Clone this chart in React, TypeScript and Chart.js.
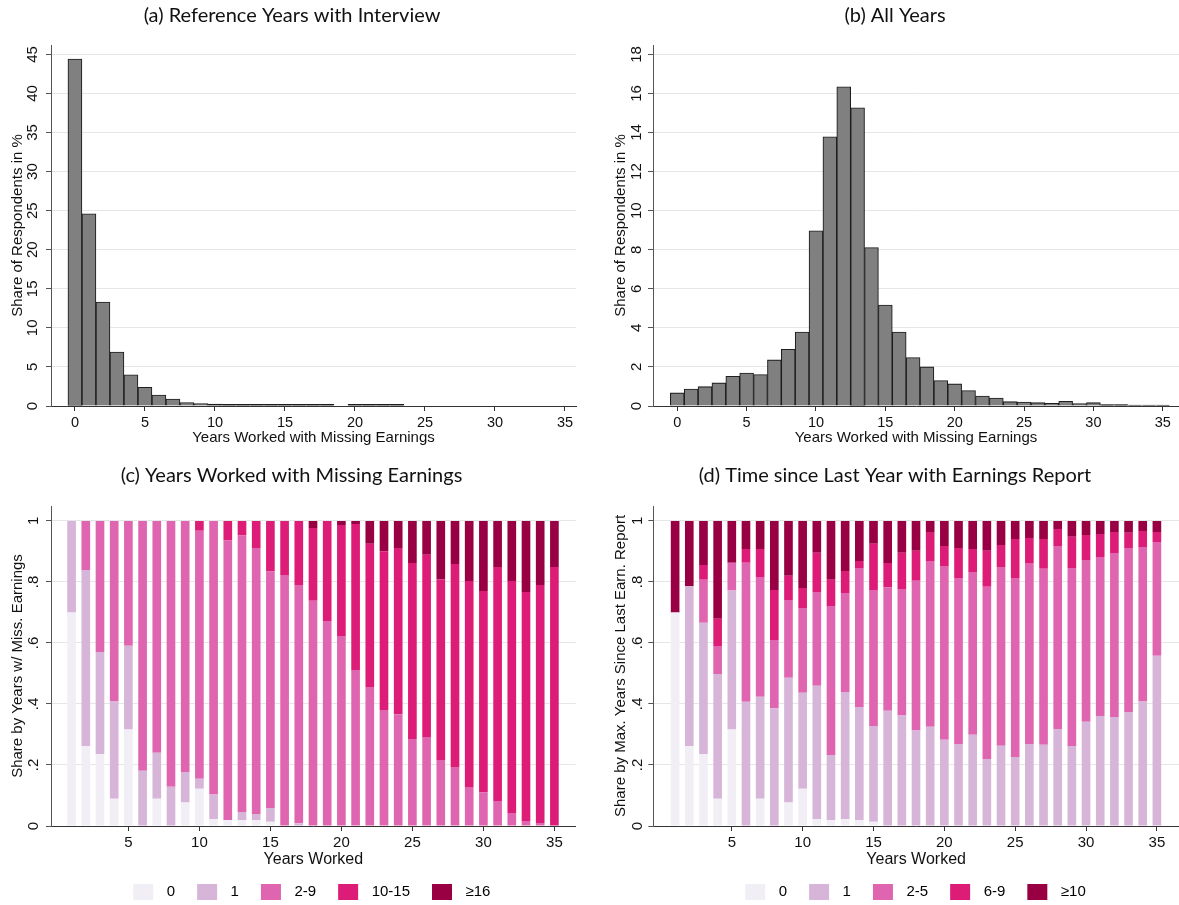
import React, { useEffect, useRef } from 'react';
import { Chart, registerables } from 'chart.js';

Chart.register(...registerables);

// ---------- data ----------
const histAYears = [0, 1, 2, 3, 4, 5, 6, 7, 8, 9, 10, 11, 12, 13, 14, 15, 16, 17, 18, 19, 20, 21, 22, 23];
const histAValues = [44.4, 24.6, 13.3, 6.9, 4.0, 2.4, 1.4, 0.9, 0.45, 0.3, 0.25, 0.2, 0.2, 0.2, 0.2, 0.2, 0.2, 0.2, 0.2, 0, 0.2, 0.2, 0.2, 0.2];

const histBYears = [0, 1, 2, 3, 4, 5, 6, 7, 8, 9, 10, 11, 12, 13, 14, 15, 16, 17, 18, 19, 20, 21, 22, 23, 24, 25, 26, 27, 28, 29, 30, 31, 32, 33, 34, 35];
const histBValues = [0.67, 0.87, 0.99, 1.18, 1.52, 1.69, 1.61, 2.36, 2.9, 3.79, 8.97, 13.78, 16.34, 15.27, 8.11, 5.17, 3.79, 2.48, 2.0, 1.3, 1.13, 0.79, 0.51, 0.41, 0.22, 0.2, 0.17, 0.14, 0.24, 0.12, 0.17, 0.07, 0.07, 0.05, 0.05, 0.05];

const xTicksTop = [0, 5, 10, 15, 20, 25, 30, 35];
const yTicksA = [0, 5, 10, 15, 20, 25, 30, 35, 40, 45];
const yTicksB = [0, 2, 4, 6, 8, 10, 12, 14, 16, 18];

const workedYears = [1, 2, 3, 4, 5, 6, 7, 8, 9, 10, 11, 12, 13, 14, 15, 16, 17, 18, 19, 20, 21, 22, 23, 24, 25, 26, 27, 28, 29, 30, 31, 32, 33, 34, 35];
const xTicksBottom = [5, 10, 15, 20, 25, 30, 35];
const yTicksShare = [0, 0.2, 0.4, 0.6, 0.8, 1];
const yTickLabelsShare = ['0', '.2', '.4', '.6', '.8', '1'];

const missLabels = ['0', '1', '2-9', '10-15', '≥16'];
const miss0 = [0.70, 0.262, 0.236, 0.089, 0.316, 0, 0.089, 0, 0.077, 0.122, 0.023, 0.020, 0.020, 0.020, 0.014, 0, 0, 0, 0, 0, 0, 0, 0, 0, 0, 0, 0, 0, 0, 0, 0, 0, 0, 0, 0];
const miss1 = [0.30, 0.577, 0.334, 0.319, 0.275, 0.181, 0.151, 0.129, 0.100, 0.033, 0.080, 0, 0.026, 0.019, 0.045, 0, 0.009, 0, 0, 0, 0, 0, 0, 0, 0, 0, 0, 0, 0, 0, 0, 0, 0, 0, 0];
const miss2 = [0, 0.161, 0.430, 0.592, 0.409, 0.819, 0.760, 0.871, 0.823, 0.813, 0.897, 0.916, 0.906, 0.872, 0.775, 0.823, 0.781, 0.738, 0.672, 0.623, 0.511, 0.456, 0.380, 0.366, 0.285, 0.292, 0.216, 0.193, 0.128, 0.111, 0.082, 0.043, 0.016, 0.010, 0];
const miss3 = [0, 0, 0, 0, 0, 0, 0, 0, 0, 0.032, 0, 0.064, 0.048, 0.089, 0.166, 0.177, 0.210, 0.239, 0.328, 0.364, 0.479, 0.469, 0.521, 0.545, 0.577, 0.597, 0.593, 0.666, 0.675, 0.659, 0.767, 0.760, 0.751, 0.780, 0.849];
const miss4 = [0, 0, 0, 0, 0, 0, 0, 0, 0, 0, 0, 0, 0, 0, 0, 0, 0, 0.023, 0, 0.013, 0.010, 0.075, 0.099, 0.089, 0.138, 0.111, 0.191, 0.141, 0.197, 0.230, 0.151, 0.197, 0.233, 0.210, 0.151];

const lastLabels = ['0', '1', '2-5', '6-9', '≥10'];
const last0 = [0.70, 0.262, 0.236, 0.089, 0.316, 0, 0.089, 0, 0.077, 0.122, 0.023, 0.020, 0.023, 0.020, 0.014, 0, 0, 0, 0, 0, 0, 0, 0, 0, 0, 0, 0, 0, 0, 0, 0, 0, 0, 0, 0];
const last1 = [0, 0.525, 0.430, 0.409, 0.456, 0.407, 0.335, 0.386, 0.409, 0.315, 0.437, 0.213, 0.416, 0.370, 0.314, 0.378, 0.362, 0.313, 0.325, 0.283, 0.269, 0.299, 0.220, 0.263, 0.226, 0.269, 0.266, 0.318, 0.262, 0.342, 0.361, 0.357, 0.374, 0.408, 0.558];
const last2 = [0, 0, 0.141, 0.092, 0.091, 0.456, 0.392, 0.224, 0.255, 0.278, 0.307, 0.488, 0.325, 0.456, 0.446, 0.405, 0.415, 0.491, 0.544, 0.569, 0.544, 0.534, 0.564, 0.586, 0.587, 0.593, 0.577, 0.600, 0.584, 0.530, 0.521, 0.538, 0.537, 0.507, 0.373];
const last3 = [0, 0, 0.049, 0.089, 0, 0.045, 0.092, 0.164, 0.079, 0.065, 0.129, 0.086, 0.072, 0.023, 0.151, 0.079, 0.119, 0.098, 0.095, 0.066, 0.098, 0.075, 0.118, 0.072, 0.128, 0.082, 0.098, 0.056, 0.102, 0.082, 0.075, 0.069, 0.050, 0.052, 0.033];
const last4 = [0.30, 0.213, 0.144, 0.321, 0.137, 0.092, 0.092, 0.226, 0.180, 0.220, 0.104, 0.193, 0.164, 0.131, 0.075, 0.138, 0.104, 0.098, 0.036, 0.082, 0.089, 0.092, 0.098, 0.079, 0.059, 0.056, 0.059, 0.026, 0.052, 0.046, 0.043, 0.036, 0.039, 0.033, 0.036];

const shareColors = ['#f1eef6', '#d7b5d8', '#df65b0', '#dd1c77', '#980043'];

// ---------- styling ----------
const SANS = '"Liberation Sans", Arial, sans-serif';
const TITLE_FONT = 'Lato, "Noto Sans", sans-serif';
const TEXT = '#111111';
const HIST_FILL = '#808080';
const HIST_EDGE = '#1e1e1e';

const annotPlugin = {
  id: 'annot',
  afterDraw(chart: any, _args: any, o: any) {
    const ctx = chart.ctx;
    ctx.save();
    ctx.fillStyle = TEXT;
    ctx.textAlign = 'center';
    ctx.textBaseline = 'middle';
    ctx.font = `${o.titleSize}px ${TITLE_FONT}`;
    ctx.fillText(o.title, o.titleX, o.titleY);
    const ys = chart.scales.y;
    ctx.font = `${o.tickSize}px ${SANS}`;
    o.yTicks.forEach((v: number, i: number) => {
      const py = ys.getPixelForValue(v);
      ctx.save();
      ctx.translate(o.yTickX, py);
      ctx.rotate(-Math.PI / 2);
      ctx.fillText(o.yTickLabels[i], 0, 0);
      ctx.restore();
    });
    ctx.font = `${o.yTitleSize}px ${SANS}`;
    const cy = (chart.chartArea.top + chart.chartArea.bottom) / 2;
    ctx.save();
    ctx.translate(o.yTitleX, cy);
    ctx.rotate(-Math.PI / 2);
    ctx.fillText(o.yTitle, 0, 0);
    ctx.restore();
    ctx.restore();
  },
};

type PanelSpec = {
  kind: 'hist' | 'stack';
  xs: number[];
  series: { label: string; values: number[]; color: string }[];
  xMin: number;
  xMax: number;
  yMax: number;
  xTicks: number[];
  yTicks: number[];
  yTickLabels: string[];
  xTitle: string;
  xTitleSize: number;
  xTickSize: number;
  xTitlePadBottom: number;
  yTitle: string;
  title: string;
  titleX: number;
  titleY: number;
  yTickX: number;
  yTitleX: number;
  yAxisWidth: number;
  xAxisHeight: number;
  padding: { left: number; right: number; top: number; bottom: number };
  legend: boolean;
};

// very short histogram bars appear as a solid outline
const histFill = (c: any) => {
  const raw = c.raw;
  const ys = c.chart.scales && c.chart.scales.y;
  if (!raw || !ys) return HIST_FILL;
  const h = ys.getPixelForValue(0) - ys.getPixelForValue(raw.y);
  return h > 0 && h < 2.2 ? HIST_EDGE : HIST_FILL;
};

function buildConfig(p: PanelSpec): any {
  const datasets = p.series.map((s) => ({
    label: s.label,
    data: p.xs.map((x, i) => ({ x, y: s.values[i] })),
    backgroundColor: p.kind === 'hist' ? histFill : s.color,
    borderColor: p.kind === 'hist' ? HIST_EDGE : s.color,
    borderWidth: p.kind === 'hist' ? 1.1 : 0,
    barPercentage: p.kind === 'hist' ? 1 : 0.61,
    categoryPercentage: 1,
  }));
  const stacked = p.kind === 'stack';
  return {
    type: 'bar',
    data: { datasets },
    plugins: [annotPlugin],
    options: {
      responsive: false,
      animation: false,
      events: [],
      layout: { padding: p.padding, autoPadding: false },
      scales: {
        x: {
          type: 'linear',
          min: p.xMin,
          max: p.xMax,
          offset: false,
          stacked,
          afterBuildTicks: (s: any) => {
            s.ticks = p.xTicks.map((v) => ({ value: v }));
          },
          grid: {
            display: true,
            drawOnChartArea: false,
            drawTicks: true,
            tickLength: 5,
            tickColor: '#333',
            offset: false,
          },
          border: { display: true, color: '#333', width: 1, z: 1 },
          ticks: {
            font: { family: SANS, size: p.xTickSize },
            color: TEXT,
            padding: 3,
            maxRotation: 0,
            minRotation: 0,
            autoSkip: false,
            includeBounds: false,
            callback: (v: any) => String(v),
          },
          title: {
            display: true,
            text: p.xTitle,
            color: TEXT,
            font: { family: SANS, size: p.xTitleSize },
            padding: { top: 0, bottom: p.xTitlePadBottom },
          },
          afterFit: (s: any) => {
            s.height = p.xAxisHeight;
          },
        },
        y: {
          type: 'linear',
          min: 0,
          max: p.yMax,
          stacked,
          afterBuildTicks: (s: any) => {
            s.ticks = p.yTicks.map((v) => ({ value: v }));
          },
          grid: {
            color: '#e6e6e6',
            lineWidth: 1,
            drawTicks: true,
            tickLength: 5,
            tickColor: '#555',
          },
          border: { display: true, color: '#555', width: 1, z: 1 },
          ticks: { color: 'rgba(0,0,0,0)', font: { size: 15 }, padding: 0, includeBounds: false },
          afterFit: (s: any) => {
            s.width = p.yAxisWidth;
          },
        },
      },
      plugins: {
        tooltip: { enabled: false },
        title: { display: false },
        legend: p.legend
          ? {
              display: true,
              position: 'bottom',
              align: 'center',
              labels: {
                boxWidth: 20,
                boxHeight: 16,
                padding: 22,
                color: TEXT,
                font: { family: SANS, size: 15 },
                generateLabels: (chart: any) =>
                  chart.data.datasets.map((ds: any, i: number) => ({
                    text: '\u2009\u2009' + ds.label,
                    fillStyle: ds.backgroundColor,
                    strokeStyle: ds.backgroundColor,
                    lineWidth: 0,
                    hidden: false,
                    datasetIndex: i,
                  })),
              },
            }
          : { display: false },
        annot: {
          title: p.title,
          titleX: p.titleX,
          titleY: p.titleY,
          titleSize: 20,
          tickSize: 15,
          yTicks: p.yTicks,
          yTickLabels: p.yTickLabels,
          yTickX: p.yTickX,
          yTitle: p.yTitle,
          yTitleX: p.yTitleX,
          yTitleSize: 15,
        },
      },
    },
  };
}

function Panel(props: { spec: PanelSpec; left: number; top: number; width: number; height: number }) {
  const ref = useRef<HTMLCanvasElement | null>(null);
  useEffect(() => {
    if (!ref.current) return;
    const chart = new Chart(ref.current, buildConfig(props.spec));
    return () => chart.destroy();
  }, []);
  return (
    <canvas
      ref={ref}
      width={props.width}
      height={props.height}
      style={{ position: 'absolute', left: props.left, top: props.top, width: props.width, height: props.height }}
    />
  );
}

const specA: PanelSpec = {
  kind: 'hist',
  xs: histAYears,
  series: [{ label: 'Share', values: histAValues, color: HIST_FILL }],
  xMin: -1.71,
  xMax: 35.79,
  yMax: 46.2,
  xTicks: xTicksTop,
  yTicks: yTicksA,
  yTickLabels: yTicksA.map(String),
  xTitle: 'Years Worked with Missing Earnings',
  xTitleSize: 15,
  xTickSize: 14.5,
  xTitlePadBottom: 0,
  yTitle: 'Share of Respondents in %',
  title: '(a) Reference Years with Interview',
  titleX: 292,
  titleY: 16,
  yTickX: 32.5,
  yTitleX: 17.5,
  yAxisWidth: 51,
  xAxisHeight: 41.3,
  padding: { left: 0, right: 14, top: 45, bottom: 7.7 },
  legend: false,
};

const specB: PanelSpec = {
  kind: 'hist',
  xs: histBYears,
  series: [{ label: 'Share', values: histBValues, color: HIST_FILL }],
  xMin: -1.75,
  xMax: 36.17,
  yMax: 18.48,
  xTicks: xTicksTop,
  yTicks: yTicksB,
  yTickLabels: yTicksB.map(String),
  xTitle: 'Years Worked with Missing Earnings',
  xTitleSize: 15,
  xTickSize: 14.5,
  xTitlePadBottom: 0,
  yTitle: 'Share of Respondents in %',
  title: '(b) All Years',
  titleX: 295,
  titleY: 16,
  yTickX: 36.5,
  yTitleX: 20.5,
  yAxisWidth: 53,
  xAxisHeight: 41.3,
  padding: { left: 0, right: 0, top: 45, bottom: 7.7 },
  legend: false,
};

const specC: PanelSpec = {
  kind: 'stack',
  xs: workedYears,
  series: missLabels.map((l, i) => ({ label: l, values: [miss0, miss1, miss2, miss3, miss4][i], color: shareColors[i] })),
  xMin: -0.45,
  xMax: 36.5,
  yMax: 1.049,
  xTicks: xTicksBottom,
  yTicks: yTicksShare,
  yTickLabels: yTickLabelsShare,
  xTitle: 'Years Worked',
  xTitleSize: 16,
  xTickSize: 15,
  xTitlePadBottom: -7.6,
  yTitle: 'Share by Years w/ Miss. Earnings',
  title: '(c) Years Worked with Missing Earnings',
  titleX: 291.5,
  titleY: 21,
  yTickX: 34,
  yTitleX: 17.5,
  yAxisWidth: 3,
  xAxisHeight: 36,
  padding: { left: 48, right: 14.3, top: 51, bottom: 0 },
  legend: true,
};

const specD: PanelSpec = {
  kind: 'stack',
  xs: workedYears,
  series: lastLabels.map((l, i) => ({ label: l, values: [last0, last1, last2, last3, last4][i], color: shareColors[i] })),
  xMin: -0.54,
  xMax: 36.56,
  yMax: 1.049,
  xTicks: xTicksBottom,
  yTicks: yTicksShare,
  yTickLabels: yTickLabelsShare,
  xTitle: 'Years Worked',
  xTitleSize: 16,
  xTickSize: 15,
  xTitlePadBottom: -7.6,
  yTitle: 'Share by Max. Years Since Last Earn. Report',
  title: '(d) Time since Last Year with Earnings Report',
  titleX: 295,
  titleY: 21,
  yTickX: 38,
  yTitleX: 20.5,
  yAxisWidth: 1.3,
  xAxisHeight: 36,
  padding: { left: 52, right: 0, top: 51, bottom: 0 },
  legend: true,
};

export default function App() {
  useEffect(() => {
    document.body.style.margin = '0';
  }, []);
  return (
    <div
      style={{
        position: 'fixed',
        left: 0,
        top: 0,
        width: 1179,
        height: 905,
        overflow: 'hidden',
        background: '#ffffff',
      }}
    >
      <Panel spec={specA} left={0} top={0} width={590} height={455} />
      <Panel spec={specB} left={600} top={0} width={579} height={455} />
      <Panel spec={specC} left={0} top={455} width={590} height={455} />
      <Panel spec={specD} left={600} top={455} width={579} height={455} />
    </div>
  );
}
